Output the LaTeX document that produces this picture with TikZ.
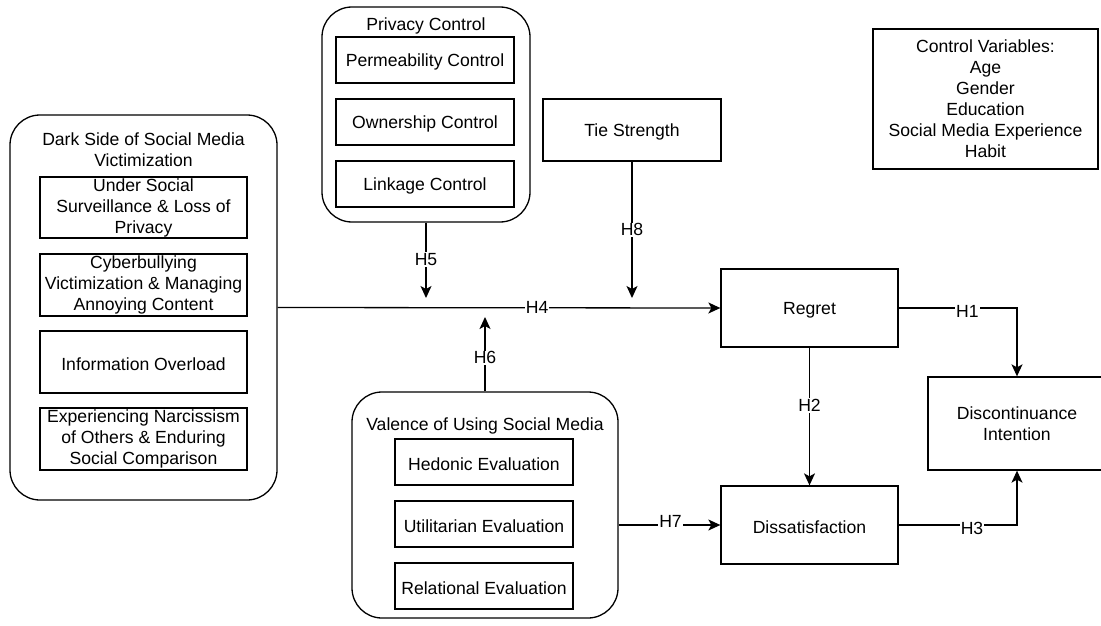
\documentclass[tikz,border=0pt]{standalone}
\usepackage{fontspec}
\setmainfont{Liberation Sans}
\usetikzlibrary{arrows.meta}
\begin{document}
\begin{tikzpicture}[x=1pt,y=-1pt,
  every node/.style={font=\fontsize{17.6}{21}\selectfont},
  box/.style={draw, line width=1.3pt, inner sep=0pt, align=center,
    execute at begin node={\rule{0pt}{17pt}}},
  group/.style={box, rounded corners=30pt},
  title/.style={inner sep=0pt, align=center},
  conn/.style={line width=1.3pt, -{Stealth[length=12pt,width=11pt,inset=3pt]}},
  hyp/.style={fill=white, inner sep=1pt}]
\useasboundingbox (0,0) rectangle (1101,626);
\clip (0,0) rectangle (1101,626);

% dark side group
\node[group, minimum width=267pt, minimum height=385pt] (dark) at (143.5,307.5) {};
\node[title] (darkT) at (143.5,150) {Dark Side of Social Media\\Victimization};
\node[box, minimum width=207pt, minimum height=61pt] (d1) at (143.5,207.5) {Under Social\\Surveillance \& Loss of\\Privacy};
\node[box, minimum width=207pt, minimum height=62pt] (d2) at (143.5,285) {Cyberbullying\\Victimization \& Managing\\Annoying Content};
\node[box, minimum width=207pt, minimum height=62pt] (d3) at (143.5,362) {Information Overload};
\node[box, minimum width=207pt, minimum height=62pt] (d4) at (143.5,439) {Experiencing Narcissism\\of Others \& Enduring\\Social Comparison};

% privacy control group
\node[group, minimum width=208pt, minimum height=215pt] (priv) at (426,114.5) {};
\node[title] (privT) at (426,26) {Privacy Control};
\node[box, minimum width=178pt, minimum height=46pt] (p1) at (425,60) {Permeability Control};
\node[box, minimum width=178pt, minimum height=46pt] (p2) at (425,122) {Ownership Control};
\node[box, minimum width=178pt, minimum height=46pt] (p3) at (425,184) {Linkage Control};

% valence group
\node[group, minimum width=266pt, minimum height=226pt] (val) at (485,505) {};
\node[title] (valT) at (485,426) {Valence of Using Social Media};
\node[box, minimum width=178pt, minimum height=46pt] (v1) at (484,462) {Hedonic Evaluation};
\node[box, minimum width=178pt, minimum height=46pt] (v2) at (484,524) {Utilitarian Evaluation};
\node[box, minimum width=178pt, minimum height=46pt] (v3) at (484,586) {Relational Evaluation};

% single constructs
\node[box, minimum width=178pt, minimum height=62pt] (tie) at (632,130) {Tie Strength};
\node[box, minimum width=177pt, minimum height=78pt] (regret) at (809.5,308) {Regret};
\node[box, minimum width=177pt, minimum height=78pt] (dissat) at (809.5,525) {Dissatisfaction};
\node[box, minimum width=178pt, minimum height=93pt] (disc) at (1017,423.5) {Discontinuance\\Intention};
\node[box, minimum width=225pt, minimum height=140pt] (ctrl) at (985.5,99) {Control Variables:\\Age\\Gender\\Education\\Social Media Experience\\Habit};

% moderator arrow tips on the H4 path
\coordinate (t5) at (426,298);
\coordinate (t8) at (632,298);
\coordinate (t6) at (485,317);

% hypotheses
\draw[conn] (dark.east) -- node[hyp, pos=0.586] {H4} (regret.west);
\draw[conn] (priv.south) -- node[hyp, pos=0.49] {H5} (t5);
\draw[conn] (tie.south) -- node[hyp, pos=0.5] {H8} (t8);
\draw[conn] (val.north) -- node[hyp, pos=0.45] {H6} (t6);
\draw[conn] (regret.east) -| node[hyp, pos=0.29, yshift=-3pt] {H1} (disc.north);
\draw[conn] (regret.south) -- node[hyp, pos=0.42] {H2} (dissat.north);
\draw[conn] (dissat.east) -| node[hyp, pos=0.31, yshift=-3pt] {H3} (disc.south);
\draw[conn] (val.east |- dissat.west) -- node[hyp, pos=0.51, yshift=4pt] {H7} (dissat.west);
\end{tikzpicture}
\end{document}
